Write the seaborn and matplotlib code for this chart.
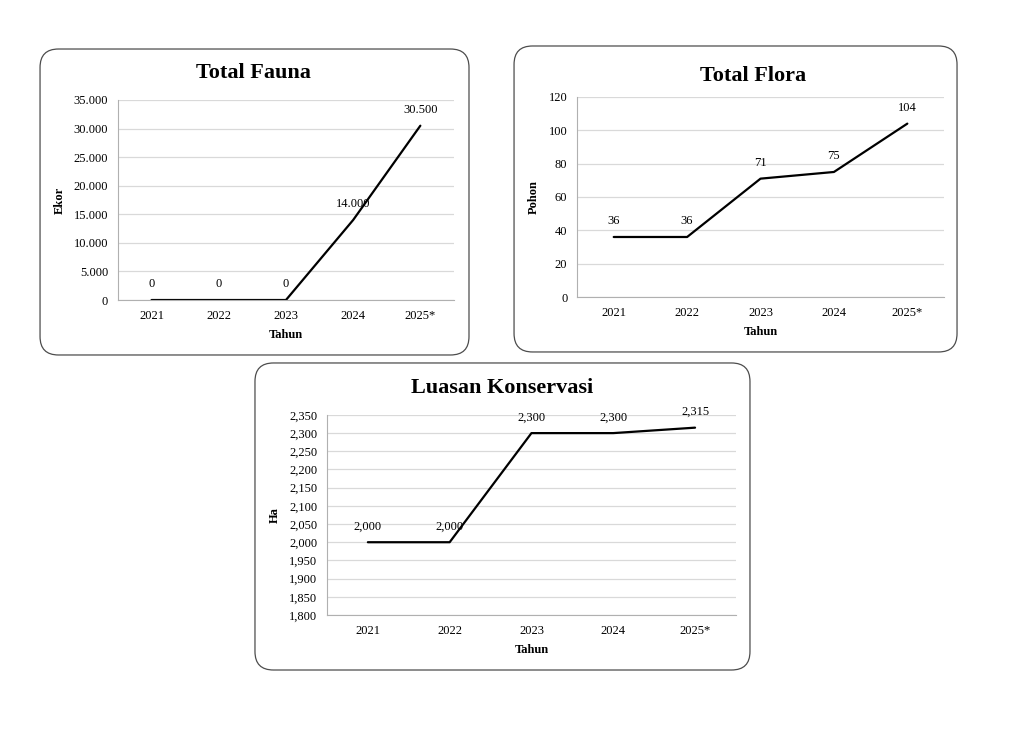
import matplotlib
matplotlib.use('Agg')
import matplotlib.pyplot as plt
from matplotlib.patches import FancyBboxPatch
from matplotlib.ticker import FuncFormatter
import seaborn as sns
import pandas as pd

tahun = ['2021', '2022', '2023', '2024', '2025*']
fauna = [0, 0, 0, 14000, 30500]
flora = [36, 36, 71, 75, 104]
luasan = [2000, 2000, 2300, 2300, 2315]

sns.set_style('white')
plt.rcParams['font.family'] = ['Liberation Serif', 'DejaVu Serif']
plt.rcParams['text.color'] = 'black'
plt.rcParams['axes.labelcolor'] = 'black'
plt.rcParams['xtick.color'] = 'black'
plt.rcParams['ytick.color'] = 'black'

fig = plt.figure(figsize=(10.24, 7.54), dpi=100)

# kotak bulat di belakang tiap grafik
boxes = [(0.0391, 0.5292, 0.4189, 0.4058),
         (0.5020, 0.5332, 0.4326, 0.4058),
         (0.2490, 0.1114, 0.4834, 0.4072)]
for bx, by, bw, bh in boxes:
    p = FancyBboxPatch((bx, by), bw, bh, boxstyle='round,pad=0,rounding_size=0.018',
                       transform=fig.transFigure, facecolor='none',
                       edgecolor='#4d4d4d', linewidth=0.9, mutation_aspect=1024 / 754,
                       zorder=-1)
    fig.patches.append(p)


def titik(v):
    return f'{v:,.0f}'.replace(',', '.')


def koma(v):
    return f'{v:,.0f}'


def gambar(rect, values, title, ylabel, ylim, step, fmt, title_xy):
    ax = fig.add_axes(rect)
    ax.patch.set_alpha(0)
    df = pd.DataFrame({'Tahun': tahun, 'Nilai': values})
    sns.lineplot(data=df, x='Tahun', y='Nilai', ax=ax, color='black', linewidth=1.6)
    ax.set_xlim(-0.5, 4.5)
    ax.set_ylim(*ylim)
    ax.set_yticks(range(ylim[0], ylim[1] + 1, step))
    ax.yaxis.set_major_formatter(FuncFormatter(lambda v, p: fmt(v)))
    ax.grid(axis='y', color='#d9d9d9', linewidth=0.9)
    ax.set_axisbelow(True)
    for s in ['top', 'right']:
        ax.spines[s].set_visible(False)
    ax.spines['left'].set_color('#b0b0b0')
    ax.spines['bottom'].set_color('#b0b0b0')
    ax.tick_params(length=0, labelsize=9, pad=7)
    ax.set_xlabel('Tahun', fontsize=9, fontweight='bold', labelpad=5)
    ax.set_ylabel(ylabel, fontsize=9, fontweight='bold', labelpad=6)
    for i, v in enumerate(values):
        ax.annotate(fmt(v), (i, v), xytext=(0, 7), textcoords='offset points',
                    ha='center', va='bottom', fontsize=9)
    fig.text(title_xy[0], title_xy[1], title, ha='center', va='center',
             fontsize=16, fontweight='bold')
    return ax


gambar([0.1152, 0.6021, 0.3281, 0.2653], fauna, 'Total Fauna', 'Ekor',
       (0, 35000), 5000, titik, (253 / 1024, 1 - 73 / 754))
gambar([0.5635, 0.6061, 0.3584, 0.2653], flora, 'Total Flora', 'Pohon',
       (0, 120), 20, titik, (753 / 1024, 1 - 76 / 754))
gambar([0.3193, 0.1844, 0.3994, 0.2653], luasan, 'Luasan Konservasi', 'Ha',
       (1800, 2350), 50, koma, (502 / 1024, 1 - 388 / 754))

fig.savefig('out.png', dpi=100, facecolor='white')
